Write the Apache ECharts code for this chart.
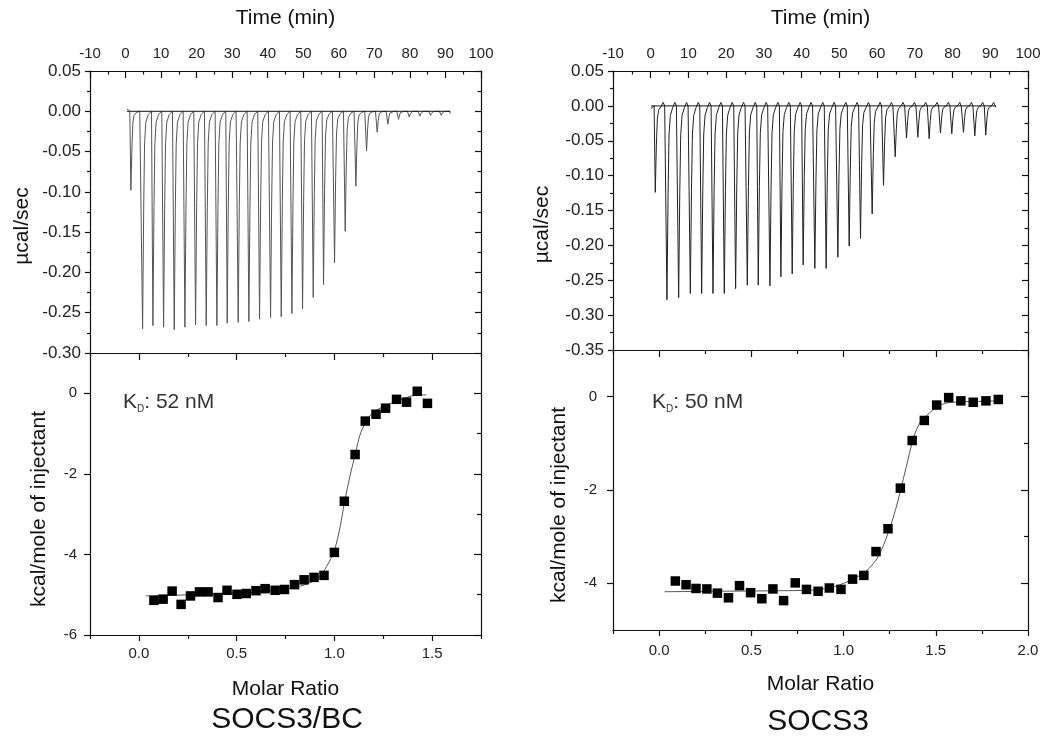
<!DOCTYPE html>
<html>
<head>
<meta charset="utf-8">
<title>ITC SOCS3/BC vs SOCS3</title>
<script src="https://cdn.jsdelivr.net/npm/echarts@6.0.0/dist/echarts.min.js"></script>
<style>
  html, body { margin: 0; padding: 0; background: #fff; }
  #chart { width: 1050px; height: 738px; }
</style>
</head>
<body>
<div id="chart"></div>
<script>
// raw thermogram, SOCS3/BC (left): injection time (min) and peak depth (µcal/sec)
const injTimeL = [1.5, 4.8, 7.7, 10.7, 13.7, 16.7, 19.7, 22.7, 25.7, 28.6, 31.7, 34.7, 37.7, 40.8, 43.8,
  46.8, 49.8, 52.8, 55.7, 58.8, 61.8, 64.8, 67.8, 70.8, 73.8, 76.8, 79.8, 82.8, 85.8, 88.8]
const peakL = [-0.098, -0.270, -0.266, -0.268, -0.271, -0.268, -0.265, -0.266, -0.266, -0.263, -0.262,
  -0.261, -0.258, -0.256, -0.255, -0.251, -0.245, -0.231, -0.215, -0.188, -0.149, -0.093, -0.049,
  -0.026, -0.016, -0.010, -0.007, -0.006, -0.005, -0.005]
const baselineL = [[0.4, 0], [91.3, 0]]

// raw thermogram, SOCS3 (right)
const injTimeR = [1.2, 4.3, 7.4, 10.5, 13.5, 16.5, 19.5, 22.5, 25.6, 28.5, 31.6, 34.5, 37.5, 40.4, 43.5,
  46.5, 49.6, 52.6, 55.6, 58.7, 61.7, 64.8, 67.8, 70.8, 73.8, 76.8, 79.8, 82.9, 85.9, 88.8]
const peakR = [-0.124, -0.278, -0.275, -0.269, -0.269, -0.269, -0.269, -0.262, -0.257, -0.257, -0.258,
  -0.245, -0.241, -0.228, -0.233, -0.233, -0.217, -0.201, -0.190, -0.155, -0.114, -0.073, -0.046,
  -0.045, -0.047, -0.039, -0.040, -0.038, -0.043, -0.042]
const baselineR = [[0.1, 0], [91.5, 0]]

// integrated heats, SOCS3/BC
const ratioL = [0.077, 0.124, 0.170, 0.216, 0.264, 0.310, 0.354, 0.405, 0.451, 0.502, 0.549, 0.599,
  0.646, 0.697, 0.745, 0.796, 0.845, 0.896, 0.947, 1.000, 1.051, 1.106, 1.158, 1.213, 1.262, 1.318,
  1.369, 1.424, 1.476]
const heatL = [-5.14, -5.11, -4.91, -5.24, -5.03, -4.93, -4.93, -5.07, -4.89, -4.99, -4.97, -4.90,
  -4.85, -4.89, -4.87, -4.75, -4.63, -4.57, -4.52, -3.95, -2.68, -1.52, -0.69, -0.52, -0.37, -0.15,
  -0.22, 0.05, -0.25]
const fitL = [[0.035, -5.03], [0.2, -5.01], [0.4, -4.98], [0.6, -4.93], [0.75, -4.86], [0.85, -4.75],
  [0.92, -4.58], [0.96, -4.3], [1.0, -3.9], [1.03, -3.3], [1.05, -2.75], [1.08, -2.05], [1.11, -1.45],
  [1.13, -1.05], [1.16, -0.72], [1.2, -0.47], [1.27, -0.29], [1.34, -0.16], [1.41, -0.05], [1.47, -0.04]]

// integrated heats, SOCS3
const ratioR = [0.088, 0.146, 0.200, 0.259, 0.316, 0.376, 0.436, 0.496, 0.557, 0.617, 0.675, 0.738,
  0.799, 0.862, 0.923, 0.986, 1.049, 1.110, 1.176, 1.241, 1.308, 1.372, 1.438, 1.505, 1.570, 1.636,
  1.703, 1.772, 1.839]
const heatR = [-3.95, -4.03, -4.11, -4.12, -4.21, -4.31, -4.05, -4.20, -4.33, -4.12, -4.37, -3.99,
  -4.13, -4.17, -4.10, -4.13, -3.91, -3.83, -3.32, -2.83, -1.96, -0.94, -0.51, -0.18, -0.02, -0.09,
  -0.12, -0.09, -0.06]
const fitR = [[0.03, -4.18], [0.3, -4.17], [0.6, -4.16], [0.85, -4.14], [0.957, -4.06], [1.047, -3.92],
  [1.1, -3.8], [1.138, -3.68], [1.183, -3.46], [1.228, -3.07], [1.282, -2.42], [1.336, -1.57],
  [1.381, -0.86], [1.42, -0.52], [1.463, -0.36], [1.5, -0.24], [1.553, -0.14], [1.643, -0.11],
  [1.75, -0.1], [1.842, -0.09]]

// shape of one injection spike around its peak time: [dt, fraction of peak, offset]
const spikeL = [[-0.3, 0, 0], [0, 1, 0], [0.3, 0.45, 0], [0.55, 0.15, 0], [0.9, 0.05, 0], [1.6, 0.015, 0], [2.5, 0, 0]]
const spikeR = [[-0.3, 0, 0], [0, 1, 0], [0.3, 0.45, 0], [0.55, 0.15, 0], [0.9, 0.05, 0], [1.5, 0.01, 0], [2.1, 0, 0.005], [2.5, 0, 0]]

const FONT = 'Liberation Sans, Arial, sans-serif'

function buildTrace (times, peaks, shape, start, end) {
  let pts = [start]
  times.forEach((t, i) => {
    shape.forEach(s => {
      pts.push([t + s[0], peaks[i] * s[1] + s[2]])
    })
  })
  pts.push(end)
  return pts
}

function zip (xs, ys) {
  return xs.map((x, i) => [x, ys[i]])
}

const noLine = { show: false, onZero: false }

function frame (extra) {
  return Object.assign({
    type: 'value',
    axisLine: { show: true, onZero: false, lineStyle: { color: '#111', width: 1.2 } },
    splitLine: { show: false },
    axisLabel: { show: false },
    axisTick: { show: false },
    minorTick: { show: false }
  }, extra)
}

const labelStyle = { color: '#222', fontSize: 15, fontFamily: FONT }
const nameStyle = { color: '#111', fontSize: 21, fontFamily: FONT }
const tickLine = { color: '#111', width: 1.2 }

function ratioAxes (grid, max, gap, margin) {
  let major = [0, 0.5, 1, 1.5, 2].filter(v => v <= max)
  let minor = [-0.25, 0.25, 0.75, 1.25, 1.75].filter(v => v <= max)
  return [
    frame({
      gridIndex: grid, position: 'bottom', min: -0.25, max: max,
      name: 'Molar Ratio', nameLocation: 'middle', nameGap: gap, nameTextStyle: nameStyle,
      axisLabel: Object.assign({ show: true, margin: margin, customValues: major, formatter: v => v.toFixed(1) }, labelStyle),
      axisTick: { show: true, length: 6, customValues: major, lineStyle: tickLine }
    }),
    frame({
      gridIndex: grid, position: 'bottom', min: -0.25, max: max,
      axisLine: noLine,
      axisTick: { show: true, length: 4, customValues: minor, lineStyle: tickLine }
    }),
    frame({
      gridIndex: grid, position: 'top', min: -0.25, max: max,
      axisTick: { show: true, inside: true, length: 7, customValues: major, lineStyle: tickLine }
    }),
    frame({
      gridIndex: grid, position: 'top', min: -0.25, max: max,
      axisLine: noLine,
      axisTick: { show: true, inside: true, length: 4, customValues: minor, lineStyle: tickLine }
    })
  ]
}

function timeAxis (grid) {
  return frame({
    gridIndex: grid, position: 'top', min: -10, max: 100, interval: 10,
    name: 'Time (min)', nameLocation: 'middle', nameGap: 42, nameTextStyle: nameStyle,
    axisLabel: Object.assign({ show: true, margin: 10 }, labelStyle),
    axisTick: { show: true, inside: true, length: 7, lineStyle: tickLine },
    minorTick: { show: true, splitNumber: 2, length: 3.5, lineStyle: tickLine }
  })
}

function powerAxes (grid, min, gap) {
  return [
    frame({
      gridIndex: grid, position: 'left', min: min, max: 0.05, interval: 0.05,
      name: 'µcal/sec', nameLocation: 'middle', nameGap: gap,
      nameTextStyle: Object.assign({ padding: [0, 28, 0, 0] }, nameStyle),
      axisLabel: Object.assign({}, labelStyle, {
        show: true, margin: 9, fontSize: 17,
        formatter: v => Math.abs(v) < 1e-9 ? '0.00' : v.toFixed(2)
      }),
      axisTick: { show: true, length: 5, lineStyle: tickLine },
      minorTick: { show: true, splitNumber: 2, length: 3, lineStyle: tickLine }
    }),
    frame({
      gridIndex: grid, position: 'right', min: min, max: 0.05, interval: 0.05,
      axisTick: { show: true, inside: true, length: 6, lineStyle: tickLine },
      minorTick: { show: true, splitNumber: 2, length: 3.5, lineStyle: tickLine }
    })
  ]
}

function heatAxes (grid, min, major, minor, gap, margin) {
  return [
    frame({
      gridIndex: grid, position: 'left', min: min, max: 1,
      name: 'kcal/mole of injectant', nameLocation: 'middle', nameGap: gap,
      nameTextStyle: Object.assign({ padding: [0, 30, 0, 0] }, nameStyle),
      axisLabel: Object.assign({ show: true, margin: margin, customValues: major }, labelStyle),
      axisTick: { show: true, length: 6, customValues: major, lineStyle: tickLine }
    }),
    frame({
      gridIndex: grid, position: 'right', min: min, max: 1,
      axisTick: { show: true, inside: true, length: 7, customValues: major, lineStyle: tickLine }
    }),
    frame({
      gridIndex: grid, position: 'right', min: min, max: 1,
      axisLine: noLine,
      axisTick: { show: true, inside: true, length: 4, customValues: minor, lineStyle: tickLine }
    })
  ]
}

function kdText (x, value) {
  return {
    type: 'text', x: x, y: 402, z: 10,
    style: {
      text: '{k|K}{d|D}{k|: ' + value + '}',
      verticalAlign: 'middle',
      rich: {
        k: { fontSize: 21, fontFamily: FONT, fill: '#333', lineHeight: 24 },
        d: { fontSize: 10, fontFamily: FONT, fill: '#333', lineHeight: 10, verticalAlign: 'bottom' }
      }
    }
  }
}

function panelTitle (x, y, text) {
  return {
    type: 'text', x: x, y: y, z: 10,
    style: { text: text, align: 'center', verticalAlign: 'middle', fontSize: 30, fontFamily: FONT, fill: '#111' }
  }
}

let option = {
  animation: false,
  backgroundColor: '#fff',
  grid: [
    { left: 90, top: 71, width: 391, height: 282 },
    { left: 90, top: 353, width: 391, height: 282 },
    { left: 613, top: 71, width: 415, height: 279 },
    { left: 613, top: 350, width: 415, height: 280 }
  ],
  // 0 time L | 1-4 ratio L | 5 time R | 6-9 ratio R
  xAxis: [timeAxis(0)].concat(ratioAxes(1, 1.75, 44, 11), [timeAxis(2)], ratioAxes(3, 2.0, 44, 13)),
  // 0-1 power L | 2-4 heat L | 5-6 power R | 7-9 heat R
  yAxis: powerAxes(0, -0.3, 57).concat(
    heatAxes(1, -6, [-6, -4, -2, 0], [-5, -3, -1], 40, 13),
    powerAxes(2, -0.35, 60),
    heatAxes(3, -5, [-4, -2, 0], [-3, -1], 43, 16)
  ),
  series: [
    {
      type: 'line', xAxisIndex: 0, yAxisIndex: 0, showSymbol: false, silent: true,
      data: buildTrace(injTimeL, peakL, spikeL, [0.4, 0.003], [91.3, -0.003]),
      lineStyle: { color: '#555', width: 1 }
    },
    {
      type: 'line', xAxisIndex: 0, yAxisIndex: 0, showSymbol: false, silent: true,
      data: baselineL, lineStyle: { color: '#111', width: 1 }
    },
    {
      type: 'line', xAxisIndex: 1, yAxisIndex: 2, showSymbol: false, smooth: 0.3, silent: true,
      data: fitL, lineStyle: { color: '#555', width: 1 }
    },
    {
      type: 'scatter', xAxisIndex: 1, yAxisIndex: 2, symbol: 'rect', symbolSize: 9.5,
      data: zip(ratioL, heatL), itemStyle: { color: '#000', opacity: 1 }, z: 5
    },
    {
      type: 'line', xAxisIndex: 5, yAxisIndex: 5, showSymbol: false, silent: true,
      data: buildTrace(injTimeR, peakR, spikeR, [0, -0.004], [91.5, -0.002]),
      lineStyle: { color: '#222', width: 1 }
    },
    {
      type: 'line', xAxisIndex: 5, yAxisIndex: 5, showSymbol: false, silent: true,
      data: baselineR, lineStyle: { color: '#111', width: 1 }
    },
    {
      type: 'line', xAxisIndex: 6, yAxisIndex: 7, showSymbol: false, smooth: 0.3, silent: true,
      data: fitR, lineStyle: { color: '#555', width: 1 }
    },
    {
      type: 'scatter', xAxisIndex: 6, yAxisIndex: 7, symbol: 'rect', symbolSize: 9.5,
      data: zip(ratioR, heatR), itemStyle: { color: '#000', opacity: 1 }, z: 5
    }
  ],
  graphic: [
    kdText(123, '52 nM'),
    kdText(652, '50 nM'),
    panelTitle(287, 720, 'SOCS3/BC'),
    panelTitle(818, 722, 'SOCS3')
  ]
}

let chart = echarts.init(document.getElementById('chart'))
chart.setOption(option)
window.addEventListener('resize', () => chart.resize())
</script>
</body>
</html>
